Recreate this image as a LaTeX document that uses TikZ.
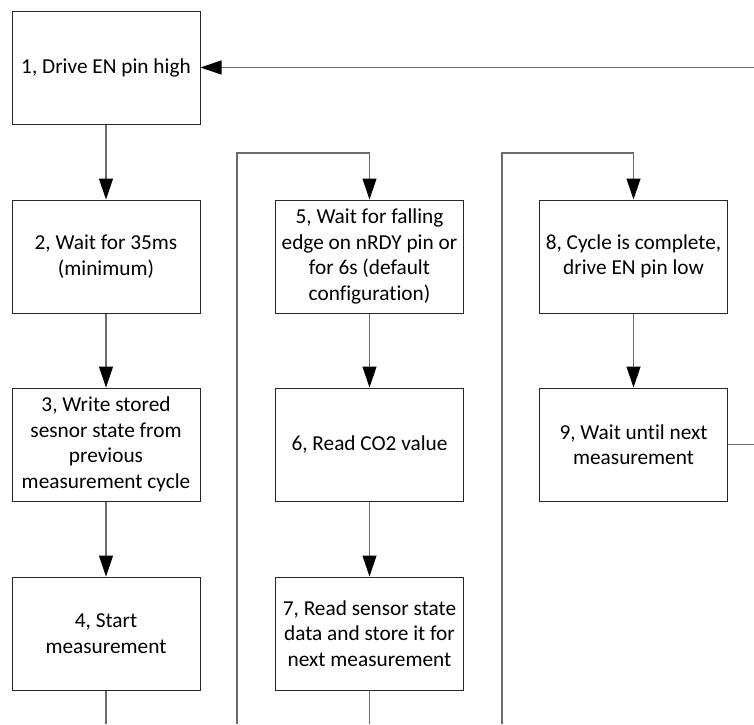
\documentclass[tikz,border=0pt]{standalone}
\usepackage{fontspec}
\setmainfont{Carlito}[Ligatures=NoCommon]
\usetikzlibrary{arrows.meta}
\begin{document}
\begin{tikzpicture}[x=1pt,y=-1pt,
  box/.style={draw=black!85, line width=1pt, fill=white, minimum width=188pt, minimum height=113pt, align=center, inner sep=2pt, font=\fontsize{21.3}{25.5}\selectfont},
  conn/.style={draw=black!58, line width=1.2pt},
  arr/.style={conn, -{Triangle[length=21pt,width=14pt,color=black]}}]
\useasboundingbox (0,0) rectangle (754,724);
% column 1
\node[box] (b1) at (106,67.5) {1, Drive EN pin high};
\node[box] (b2) at (106,256.5) {2, Wait for 35ms\\(minimum)};
\node[box] (b3) at (106,444.5) {3, Write stored\\sesnor state from\\previous\\measurement cycle};
\node[box] (b4) at (106,633.5) {4, Start\\measurement};
% column 2
\node[box] (b5) at (369.5,256.5) {5, Wait for falling\\edge on nRDY pin or\\for 6s (default\\configuration)};
\node[box] (b6) at (369.5,444.5) {6, Read CO2 value};
\node[box] (b7) at (369.5,633.5) {7, Read sensor state\\data and store it for\\next measurement};
% column 3
\node[box] (b8) at (633.5,256.5) {8, Cycle is complete,\\drive EN pin low};
\node[box] (b9) at (633.5,444.5) {9, Wait until next\\measurement};
% free ends
\coordinate (e4) at (106,724);
\coordinate (c1) at (237,724);
\coordinate (c1t) at (237,153);
\coordinate (e7) at (369.5,724);
\coordinate (c2) at (502,724);
\coordinate (c2t) at (502,153);
\coordinate (e9) at (754,444.5);
\coordinate (r1) at (754,67.5);
% connectors
\draw[arr] (b1.south) -- (b2.north);
\draw[arr] (b2.south) -- (b3.north);
\draw[arr] (b3.south) -- (b4.north);
\draw[conn] (b4.south) -- (e4);
\draw[arr] (c1) -- (c1t) -| (b5.north);
\draw[arr] (b5.south) -- (b6.north);
\draw[arr] (b6.south) -- (b7.north);
\draw[conn] (b7.south) -- (e7);
\draw[arr] (c2) -- (c2t) -| (b8.north);
\draw[arr] (b8.south) -- (b9.north);
\draw[conn] (b9.east) -- (e9);
\draw[arr] (r1) -- (b1.east);
\end{tikzpicture}
\end{document}
